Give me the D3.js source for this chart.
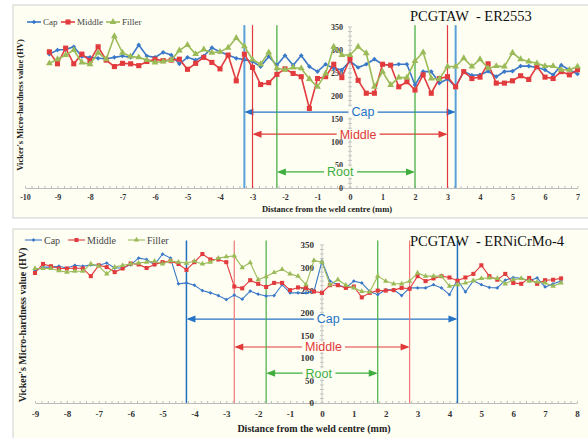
<!DOCTYPE html>
<html>
<head>
<meta charset="utf-8">
<script src="https://cdn.jsdelivr.net/npm/d3@7"></script>
<style>
body { margin: 0; background: #ffffff; }
svg { display: block; }
</style>
</head>
<body>
<svg id="chart" width="588" height="438"></svg>
<script>
// ---- data ----
var seriesNames = ["Cap", "Middle", "Filler"];
var zoneNames = ["Cap", "Middle", "Root"];
var yTicks = [0, 50, 100, 150, 200, 250, 300, 350];

// top chart: PCGTAW - ER2553, points every 0.25 mm
var topTicks = [-10, -9, -8, -7, -6, -5, -4, -3, -2, -1, 0, 1, 2, 3, 4, 5, 6, 7];
var topDistance = d3.range(-9.25, 7.001, 0.25);
var topCap = [291, 300, 301, 307, 286, 284, 282, 281, 284, 287,
    284, 311, 287, 284, 295, 289, 270, 284, 278, 287,
    305, 296, 289, 282, 279, 275, 264, 286, 267, 288,
    267, 288, 264, 253, 269, 260, 257, 276, 262, 269,
    280, 269, 267, 269, 269, 224, 253, 253, 228, 237,
    220, 253, 245, 246, 254, 242, 253, 254, 265, 265,
    262, 257, 246, 267, 257, 248];
var topMiddle = [296, 270, 304, 270, 291, 277, 307, 278, 264, 271,
    270, 266, 275, 280, 277, 278, 280, 258, 271, 284,
    273, 259, 289, 233, 291, 262, 225, 229, 247, 259,
    249, 242, 173, 238, 242, 269, 240, 281, 234, 206,
    206, 269, 267, 220, 231, 213, 246, 206, 238, 242,
    220, 253, 238, 241, 270, 228, 228, 233, 244, 236,
    264, 241, 238, 253, 246, 257];
var topFiller = [271, 280, 289, 300, 273, 269, 294, 280, 330, 294,
    286, 284, 278, 273, 275, 278, 299, 311, 291, 301,
    294, 296, 305, 326, 308, 279, 269, 295, 260, 257,
    262, 260, 237, 220, 249, 307, 289, 289, 307, 293,
    220, 253, 224, 240, 240, 276, 295, 238, 237, 264,
    264, 282, 264, 280, 260, 265, 264, 294, 280, 275,
    271, 265, 265, 257, 257, 264];
var topZoneLeft = [-3.25, -3, -2.25];
var topZoneRight = [3.25, 3, 2];
var topZoneLevel = [165, 117, 35];

// bottom chart: PCGTAW - ERNiCrMo-4
var bottomTicks = [-9, -8, -7, -6, -5, -4, -3, -2, -1, 0, 1, 2, 3, 4, 5, 6, 7, 8];
var bottomDistance = d3.range(-9, 7.501, 0.25);
var bottomCap = [293, 301, 301, 303, 299, 305, 303, 306, 305, 310,
    299, 299, 306, 321, 318, 306, 330, 321, 264, 266,
    261, 249, 244, 238, 229, 239, 230, 248, 241, 237,
    238, 262, 244, 244, 244, 247, 314, 270, 262, 255,
    270, 266, 247, 240, 251, 251, 238, 255, 255, 255,
    262, 255, 240, 273, 246, 271, 262, 256, 255, 272,
    278, 276, 271, 277, 257, 264, 270];
var bottomMiddle = [288, 308, 303, 298, 298, 299, 298, 281, 305, 301,
    290, 298, 309, 307, 299, 307, 312, 314, 308, 295,
    312, 330, 318, 318, 312, 258, 254, 272, 264, 257,
    266, 266, 250, 256, 255, 247, 244, 261, 261, 255,
    258, 234, 244, 249, 249, 250, 255, 253, 281, 270,
    276, 281, 278, 271, 278, 286, 305, 281, 273, 286,
    266, 264, 277, 264, 272, 273, 276];
var bottomFiller = [298, 298, 298, 293, 290, 292, 292, 308, 303, 286,
    301, 305, 308, 310, 312, 314, 308, 315, 312, 310,
    314, 308, 312, 321, 324, 326, 300, 311, 273, 280,
    289, 296, 286, 281, 262, 316, 312, 262, 273, 261,
    255, 247, 246, 281, 270, 264, 264, 270, 288, 281,
    281, 281, 259, 262, 266, 271, 276, 277, 276, 264,
    273, 276, 270, 268, 266, 259, 266];
var bottomZoneLeft = [-4.25, -2.75, -1.75];
var bottomZoneRight = [4.25, 2.75, 1.75];
var bottomZoneLevel = [186, 124, 66];

// ---- styling ----
var panelFill = "#fefef3";
var seriesColors = ["#3a78c8", "#e23b3e", "#9bbb59"];
var zoneColors = ["#2473c6", "#e03a3a", "#3fae3f"];
var serif = "'Liberation Serif', 'Times New Roman', serif";
var sans = "'Liberation Sans', Arial, sans-serif";

var svg = d3.select("#chart");

function marker(sel, i, s) {
    if (i === 0) {
        sel.attr("d", d3.symbol().type(d3.symbolSquare).size(11 * s * s)())
            .attr("transform", function (d) { return d3.select(this).attr("transform") + " rotate(45)"; });
    } else if (i === 1) {
        sel.attr("d", d3.symbol().type(d3.symbolSquare).size(26 * s * s)());
    } else {
        sel.attr("d", d3.symbol().type(d3.symbolTriangle).size(20 * s * s)());
    }
}

function drawPanel(p) {
    var g = svg.append("g");

    g.append("rect")
        .attr("x", p.box[0]).attr("y", p.box[1])
        .attr("width", p.box[2]).attr("height", p.box[3])
        .attr("fill", panelFill)
        .attr("stroke", "#cfcfcf");

    var x = d3.scaleLinear().domain(d3.extent(p.ticks)).range(p.xRange);
    var y = d3.scaleLinear().domain([0, 350]).range(p.yRange);

    // x axis with small ticks
    var xMinor = d3.axisBottom(x)
        .tickValues(d3.range(p.ticks[0], p.ticks[p.ticks.length - 1] + 0.01, 0.2))
        .tickFormat("")
        .tickSizeInner(-2)
        .tickSizeOuter(0);
    var gx = g.append("g").attr("transform", "translate(0," + y(0) + ")").call(xMinor);
    gx.selectAll("line, path").attr("stroke", "#bdbdbd");

    var xLabels = d3.axisBottom(x)
        .tickValues(p.ticks)
        .tickSize(0)
        .tickPadding(p.xPad)
        .tickFormat(function (d) { return String(d); });
    var gxl = g.append("g").attr("transform", "translate(0," + y(0) + ")").call(xLabels);
    gxl.select(".domain").remove();
    gxl.selectAll("text")
        .attr("font-family", serif).attr("font-weight", "bold")
        .attr("font-size", p.tickFont).attr("fill", "#333");

    // y axis through x = 0
    g.append("line")
        .attr("x1", x(0)).attr("x2", x(0))
        .attr("y1", y(0)).attr("y2", y(350))
        .attr("stroke", "#c4c4c4");
    g.selectAll(".yminor")
        .data(d3.range(0, 351, 10))
        .enter()
        .append("line")
        .attr("x1", x(0) - 2).attr("x2", x(0) + 2)
        .attr("y1", function (d) { return y(d); })
        .attr("y2", function (d) { return y(d); })
        .attr("stroke", "#c4c4c4");

    var yLabels = d3.axisLeft(y)
        .tickValues(yTicks)
        .tickSize(0)
        .tickPadding(p.yPad);
    var gy = g.append("g").attr("transform", "translate(" + x(0) + ",0)").call(yLabels);
    gy.select(".domain").remove();
    gy.selectAll("text")
        .attr("font-family", serif).attr("font-weight", "bold")
        .attr("font-size", p.tickFont).attr("fill", "#333");

    // zone boundaries and arrows
    for (var i = 0; i < zoneNames.length; i++) {
        var c = zoneColors[i];
        [p.zoneLeft[i], p.zoneRight[i]].forEach(function (v) {
            g.append("line")
                .attr("x1", x(v)).attr("x2", x(v))
                .attr("y1", y(0)).attr("y2", y(p.zoneTop))
                .attr("stroke", p.vColors[i])
                .attr("stroke-width", p.vWidths[i]);
        });

        var xl = x(p.zoneLeft[i]), xr = x(p.zoneRight[i]), ya = y(p.zoneLevel[i]);
        g.append("line")
            .attr("x1", xl + 2).attr("x2", xr - 2)
            .attr("y1", ya).attr("y2", ya)
            .attr("stroke", c).attr("stroke-width", 1.2);
        g.append("path")
            .attr("d", "M" + xl + "," + ya + "L" + (xl + 9) + "," + (ya - 3.5) + "L" + (xl + 9) + "," + (ya + 3.5) + "Z")
            .attr("fill", c);
        g.append("path")
            .attr("d", "M" + xr + "," + ya + "L" + (xr - 9) + "," + (ya - 3.5) + "L" + (xr - 9) + "," + (ya + 3.5) + "Z")
            .attr("fill", c);

        var label = g.append("text")
            .attr("x", x(p.labelAt[i]))
            .attr("y", ya)
            .attr("dy", "0.35em")
            .attr("text-anchor", "middle")
            .attr("font-family", sans)
            .attr("font-size", 12.5)
            .attr("fill", c)
            .text(zoneNames[i]);
        var bb = label.node().getBBox();
        g.insert("rect", function () { return label.node(); })
            .attr("x", bb.x - 3).attr("y", ya - 5)
            .attr("width", bb.width + 6).attr("height", 10)
            .attr("fill", panelFill);
    }

    // series
    var values = [p.cap, p.middle, p.filler];
    var line = d3.line()
        .x(function (d, j) { return x(p.distance[j]); })
        .y(function (d) { return y(d); });

    values.forEach(function (vals, i) {
        g.append("path")
            .datum(vals)
            .attr("d", line)
            .attr("fill", "none")
            .attr("stroke", seriesColors[i])
            .attr("stroke-width", p.lineWidth);

        g.selectAll(".m" + i)
            .data(vals)
            .enter()
            .append("path")
            .attr("transform", function (d, j) {
                return "translate(" + x(p.distance[j]) + "," + y(d) + ")";
            })
            .attr("fill", seriesColors[i])
            .call(marker, i, p.markerScale);
    });

    // legend
    seriesNames.forEach(function (name, i) {
        var lx = p.legendX[i];
        g.append("line")
            .attr("x1", lx).attr("x2", lx + p.legendLen)
            .attr("y1", p.legendY).attr("y2", p.legendY)
            .attr("stroke", seriesColors[i]).attr("stroke-width", p.lineWidth);
        g.append("path")
            .attr("transform", "translate(" + (lx + p.legendLen / 2) + "," + p.legendY + ")")
            .attr("fill", seriesColors[i])
            .call(marker, i, p.markerScale);
        g.append("text")
            .attr("x", lx + p.legendLen + 2)
            .attr("y", p.legendY)
            .attr("dy", "0.35em")
            .attr("font-family", serif)
            .attr("font-size", p.legendFont)
            .attr("fill", "#444")
            .text(name);
    });

    // titles
    g.append("text")
        .attr("x", p.titlePos[0]).attr("y", p.titlePos[1])
        .attr("font-family", serif).attr("font-size", 14.5)
        .attr("fill", "#111")
        .style("white-space", "pre")
        .text(p.title);

    g.append("text")
        .attr("x", p.xTitlePos[0]).attr("y", p.xTitlePos[1])
        .attr("text-anchor", "middle")
        .attr("font-family", serif).attr("font-weight", "bold")
        .attr("font-size", p.axisFont).attr("fill", "#222")
        .text("Distance from the weld centre (mm)");

    g.append("text")
        .attr("transform", "translate(" + p.yTitlePos[0] + "," + p.yTitlePos[1] + ") rotate(-90)")
        .attr("text-anchor", "middle")
        .attr("dy", "0.35em")
        .attr("font-family", serif).attr("font-weight", "bold")
        .attr("font-size", p.axisFont).attr("fill", "#222")
        .text("Vicker's Micro-hardness value (HV)");
}

drawPanel({
    box: [13, 5, 580, 213],
    ticks: topTicks, distance: topDistance,
    cap: topCap, middle: topMiddle, filler: topFiller,
    zoneLeft: topZoneLeft, zoneRight: topZoneRight, zoneLevel: topZoneLevel,
    xRange: [25, 577.5], yRange: [188, 27],
    xPad: 6, yPad: 7, tickFont: 8, axisFont: 8.5, legendFont: 9,
    lineWidth: 1.6, markerScale: 1,
    zoneTop: 354, vColors: ["#5aa0d8", "#e2393e", "#3aa83a"], vWidths: [2, 1.2, 1.2],
    labelAt: [0.4, 0.25, -0.3],
    legendX: [27, 61, 106], legendLen: 14, legendY: 22,
    title: "PCGTAW  - ER2553", titlePos: [410, 21],
    xTitlePos: [327, 212], yTitlePos: [20, 105]
});

drawPanel({
    box: [13, 229, 580, 214],
    ticks: bottomTicks, distance: bottomDistance,
    cap: bottomCap, middle: bottomMiddle, filler: bottomFiller,
    zoneLeft: bottomZoneLeft, zoneRight: bottomZoneRight, zoneLevel: bottomZoneLevel,
    xRange: [35, 577], yRange: [403, 245],
    xPad: 8, yPad: 8, tickFont: 9, axisFont: 10, legendFont: 10,
    lineWidth: 1.1, markerScale: 0.8,
    zoneTop: 360, vColors: ["#1f70c0", "#ee7878", "#45b045"], vWidths: [1.5, 1.2, 1.2],
    labelAt: [0.2, 0.05, -0.1],
    legendX: [25, 68, 128], legendLen: 17, legendY: 240,
    title: "PCGTAW  - ERNiCrMo-4", titlePos: [410, 246],
    xTitlePos: [314, 432], yTitlePos: [22, 325]
});
</script>
</body>
</html>
